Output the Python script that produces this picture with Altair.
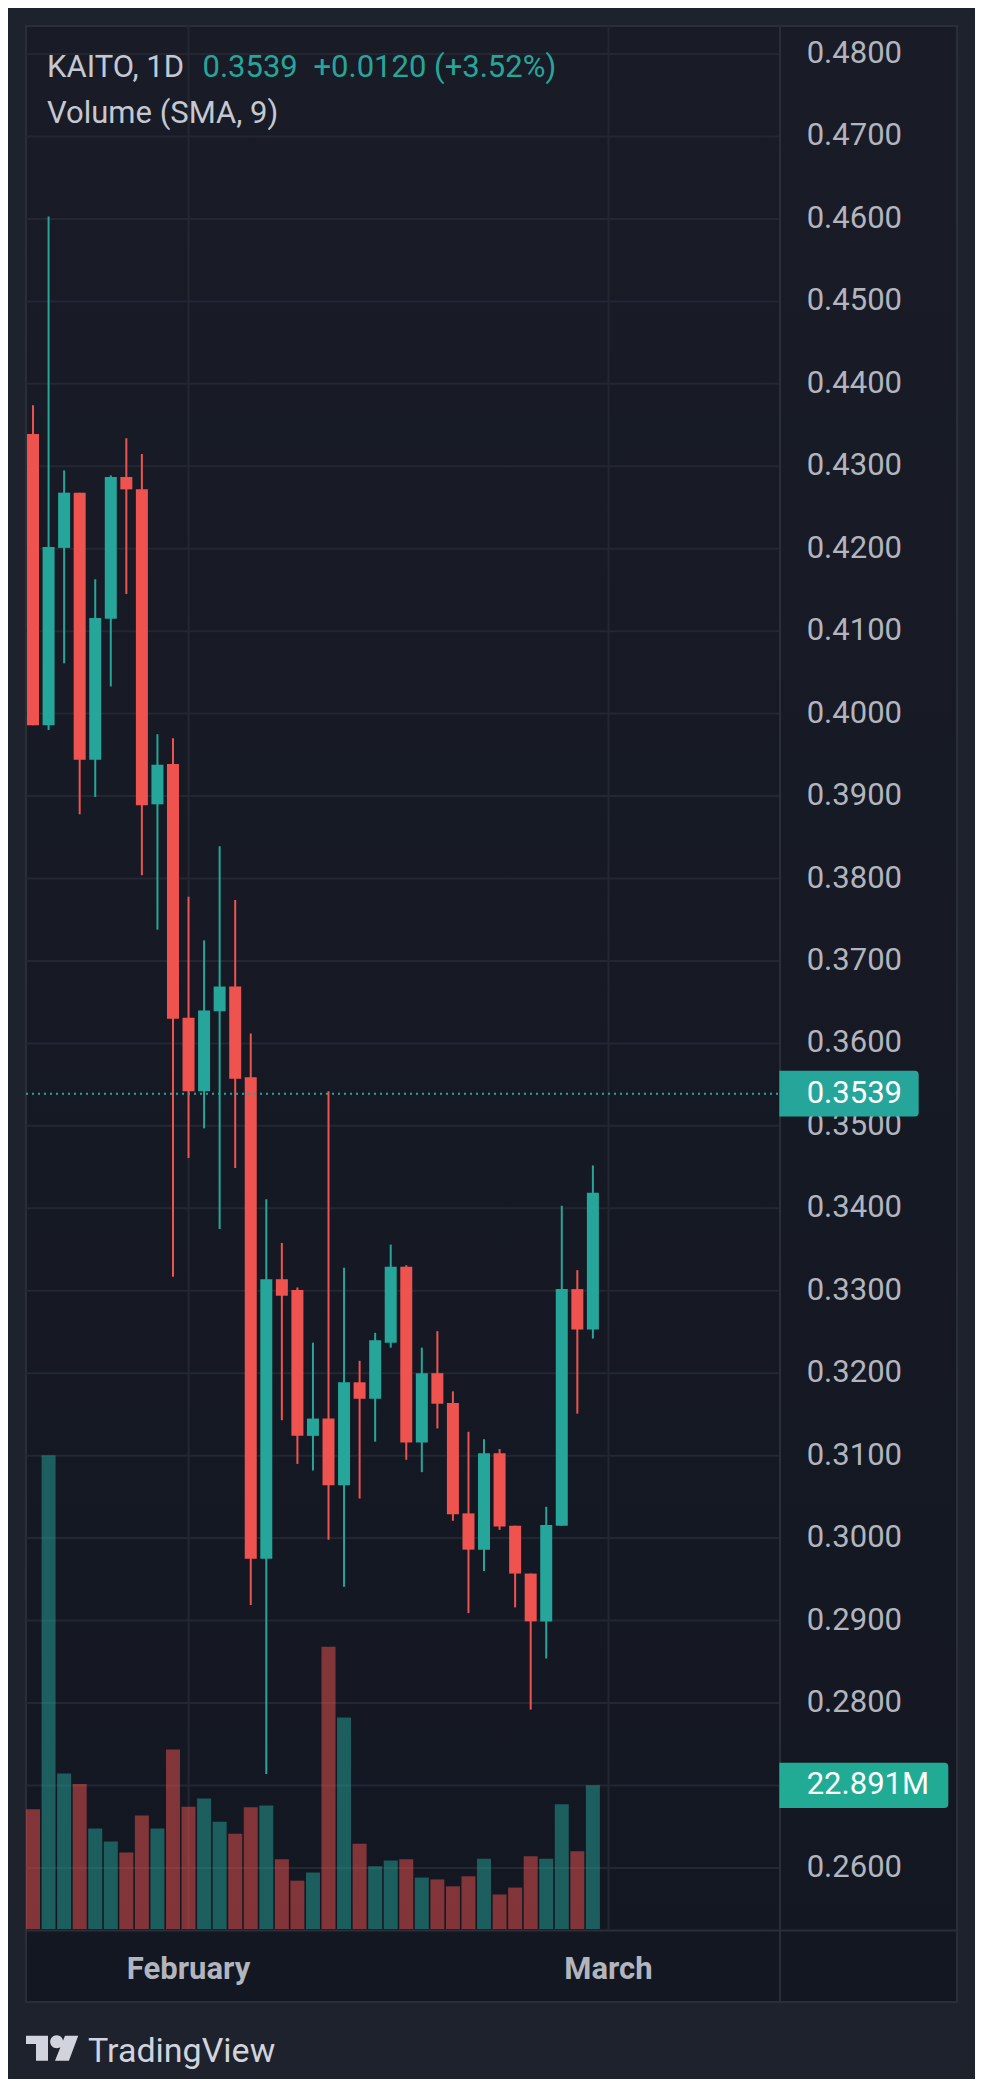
import altair as alt
import pandas as pd

# ---------------- data ----------------
day_index = list(range(37))
opens = [0.4339, 0.3986, 0.4201, 0.4268, 0.3944, 0.4115, 0.4287, 0.4272, 0.3890, 0.3939,
         0.3631, 0.3542, 0.3639, 0.3669, 0.3559, 0.2975, 0.3314, 0.3301, 0.3124, 0.3145,
         0.3064, 0.3189, 0.3169, 0.3237, 0.3329, 0.3116, 0.3200, 0.3164, 0.3030, 0.2986,
         0.3103, 0.3015, 0.2957, 0.2899, 0.3015, 0.3302, 0.3253]
highs = [0.4374, 0.4603, 0.4295, 0.4268, 0.4163, 0.4289, 0.4334, 0.4315, 0.3975, 0.3970,
         0.3778, 0.3725, 0.3839, 0.3774, 0.3612, 0.3411, 0.3358, 0.3304, 0.3237, 0.3542,
         0.3328, 0.3215, 0.3249, 0.3356, 0.3331, 0.3231, 0.3251, 0.3178, 0.3129, 0.3120,
         0.3108, 0.3015, 0.2957, 0.3038, 0.3403, 0.3325, 0.3452]
lows = [0.3986, 0.3980, 0.4061, 0.3878, 0.3899, 0.4033, 0.4145, 0.3804, 0.3738, 0.3317,
        0.3461, 0.3497, 0.3375, 0.3449, 0.2919, 0.2714, 0.3143, 0.3090, 0.3082, 0.2998,
        0.2941, 0.3048, 0.3117, 0.3231, 0.3095, 0.3080, 0.3133, 0.3021, 0.2909, 0.2960,
        0.3010, 0.2916, 0.2792, 0.2854, 0.3015, 0.3151, 0.3242]
closes = [0.3986, 0.4202, 0.4268, 0.3944, 0.4116, 0.4287, 0.4272, 0.3889, 0.3938, 0.3630,
          0.3542, 0.3640, 0.3669, 0.3557, 0.2975, 0.3314, 0.3294, 0.3124, 0.3145, 0.3064,
          0.3189, 0.3169, 0.3240, 0.3329, 0.3116, 0.3200, 0.3163, 0.3029, 0.2986, 0.3103,
          0.3014, 0.2957, 0.2899, 0.3016, 0.3302, 0.3253, 0.3419]
volumes_m = [19.1, 75.5, 24.8, 23.1, 16.0, 13.95, 12.2, 18.1, 16.0, 28.6,
             19.5, 20.8, 17.1, 15.2, 19.4, 19.7, 11.1, 7.7, 9.0, 45.0,
             33.7, 13.6, 10.0, 10.9, 11.1, 8.2, 7.9, 6.8, 8.4, 11.2,
             5.5, 6.6, 11.6, 11.2, 19.9, 12.4, 22.891]
grid_prices = [0.48, 0.47, 0.46, 0.45, 0.44, 0.43, 0.42, 0.41, 0.40, 0.39, 0.38, 0.37,
               0.36, 0.35, 0.34, 0.33, 0.32, 0.31, 0.30, 0.29, 0.28, 0.27, 0.26]
# 0.2700 sits under the volume label in the reference, so it is not shown
label_prices = [0.48, 0.47, 0.46, 0.45, 0.44, 0.43, 0.42, 0.41, 0.40, 0.39, 0.38, 0.37,
                0.36, 0.35, 0.34, 0.33, 0.32, 0.31, 0.30, 0.29, 0.28, 0.26]
month_index = [10, 37]
month_names = ["February", "March"]
last_price = [0.3539]
last_volume = [22.891]

# ---------------- geometry / style ----------------
W, H = 754, 1903
XD = [-0.13, 47.71]
PD = [0.25259, 0.48340]
VD = [0, 303.3]
UP, DOWN = "#26a69a", "#ef5350"
GRID = "#232732"
FRAME = "#2a2e39"
LABEL = "#b2b5be"
FONT = "Roboto"

df = pd.DataFrame({"i": day_index, "o": opens, "h": highs, "l": lows,
                   "c": closes, "v": volumes_m})
df["dir"] = ["up" if c >= o else "down" for o, c in zip(opens, closes)]

one = pd.DataFrame({"a": [0]})
grid_df = pd.DataFrame({"p": grid_prices})
ticks_df = pd.DataFrame({"p": label_prices})
months_df = pd.DataFrame({"i": month_index, "name": month_names})
lp_df = pd.DataFrame({"p": last_price})
lv_df = pd.DataFrame({"v": last_volume, "t": [f"{v:.3f}M" for v in last_volume]})


def xq(field="i:Q"):
    return alt.X(field, scale=alt.Scale(domain=XD, nice=False, zero=False), axis=None)


def py(field):
    return alt.Y(field, scale=alt.Scale(domain=PD, nice=False, zero=False), axis=None)


def vy(field):
    return alt.Y(field, scale=alt.Scale(domain=VD, nice=False, zero=True), axis=None)


col = alt.Color("dir:N", scale=alt.Scale(domain=["up", "down"], range=[UP, DOWN]), legend=None)

# background panel with frame
bg = alt.Chart(one).mark_rect(
    fill=alt.Gradient(gradient="linear",
                      stops=[alt.GradientStop(color="#191c27", offset=0),
                             alt.GradientStop(color="#131722", offset=1)],
                      x1=0, x2=0, y1=0, y2=1),
    stroke=FRAME, strokeWidth=2,
).encode(x=alt.value(0), x2=alt.value(931), y=alt.value(0), y2=alt.value(1976))

hgrid = alt.Chart(grid_df).mark_rule(color=GRID, strokeWidth=2).encode(
    y=py("p:Q"), x=alt.value(0), x2=alt.value(W))
vgrid = alt.Chart(months_df).mark_rule(color=GRID, strokeWidth=2).encode(
    x=xq(), y=alt.value(0), y2=alt.value(H))

vol = alt.Chart(df).mark_bar(size=14, opacity=0.5, clip=True, orient="vertical").encode(
    x=xq(), y=vy("v:Q"), color=col)
wick = alt.Chart(df).mark_rule(strokeWidth=2, clip=True).encode(
    x=xq(), y=py("l:Q"), y2="h:Q", color=col)
body = alt.Chart(df).mark_bar(size=12, clip=True, orient="vertical").encode(
    x=xq(), y=py("o:Q"), y2="c:Q", color=col)

pline = alt.Chart(lp_df).mark_rule(color=UP, strokeWidth=2, strokeDash=[2, 4]).encode(
    y=py("p:Q"), x=alt.value(0), x2=alt.value(W))

plabels = alt.Chart(ticks_df).mark_text(
    align="left", baseline="middle", font=FONT, fontSize=31, color=LABEL).encode(
    y=py("p:Q"), x=alt.value(780.7), text=alt.Text("p:Q", format=".4f"))

sep_v = alt.Chart(one).mark_rule(color=FRAME, strokeWidth=2).encode(
    x=alt.value(W), y=alt.value(0), y2=alt.value(1976))
sep_h = alt.Chart(one).mark_rule(color=FRAME, strokeWidth=2).encode(
    y=alt.value(H + 1.5), x=alt.value(0), x2=alt.value(931))

box_p_path = "M -1 -0.328 L 0.943 -0.328 Q 1 -0.328 1 -0.271 L 1 0.271 Q 1 0.328 0.943 0.328 L -1 0.328 Z"
box_p = alt.Chart(lp_df).mark_point(shape=box_p_path, filled=True, size=19432,
                                    color=UP, opacity=1, strokeWidth=0).encode(
    y=py("p:Q"), x=alt.value(823))
box_p_txt = alt.Chart(lp_df).mark_text(
    align="left", baseline="middle", font=FONT, fontSize=31, color="#ffffff").encode(
    y=py("p:Q"), x=alt.value(780.7), text=alt.Text("p:Q", format=".4f"))

box_v_path = "M -1 -0.2686 L 0.953 -0.2686 Q 1 -0.2686 1 -0.221 L 1 0.221 Q 1 0.2686 0.953 0.2686 L -1 0.2686 Z"
box_v = alt.Chart(lv_df).mark_point(shape=box_v_path, filled=True, size=28561,
                                    color="#22ab94", opacity=1, strokeWidth=0).encode(
    y=vy("v:Q"), x=alt.value(837.8))
box_v_txt = alt.Chart(lv_df).mark_text(
    align="left", baseline="middle", font=FONT, fontSize=31, color="#ffffff").encode(
    y=vy("v:Q"), x=alt.value(780.7), text="t:N")

months = alt.Chart(months_df).mark_text(
    align="center", baseline="alphabetic", font=FONT, fontSize=31, fontWeight="bold",
    color=LABEL).encode(x=xq(), y=alt.value(1953), text="name:N")

hdr1 = alt.Chart(one).mark_text(align="left", baseline="alphabetic", font=FONT, fontSize=31,
                                color="#c5c8d1", text="KAITO, 1D").encode(
    x=alt.value(21), y=alt.value(51))
hdr2 = alt.Chart(one).mark_text(align="left", baseline="alphabetic", font=FONT, fontSize=31,
                                color=UP, text="0.3539").encode(
    x=alt.value(176.5), y=alt.value(51))
hdr3 = alt.Chart(one).mark_text(align="left", baseline="alphabetic", font=FONT, fontSize=31,
                                color=UP, text="+0.0120 (+3.52%)").encode(
    x=alt.value(287.5), y=alt.value(51))
hdr4 = alt.Chart(one).mark_text(align="left", baseline="alphabetic", font=FONT, fontSize=31,
                                color="#c5c8d1", text="Volume (SMA, 9)").encode(
    x=alt.value(21), y=alt.value(96.5))

logo_path = ("M -1 -0.48 L -0.154 -0.48 L -0.154 0.48 L -0.615 0.48 L -0.615 -0.16 L -1 -0.16 Z "
             "M 0.43 -0.25 A 0.25 0.25 0 1 1 -0.07 -0.25 A 0.25 0.25 0 1 1 0.43 -0.25 Z "
             "M 0.5 -0.48 L 1.01 -0.48 L 0.65 0.48 L 0.115 0.48 Z")
logo = alt.Chart(one).mark_point(shape=logo_path, filled=True, size=2704,
                                 color="#d1d4dc", opacity=1, strokeWidth=0).encode(
    x=alt.value(26), y=alt.value(2022.2))
logo_txt = alt.Chart(one).mark_text(align="left", baseline="alphabetic", font=FONT,
                                    fontSize=34, color="#d1d4dc", text="TradingView").encode(
    x=alt.value(62), y=alt.value(2035.7))

chart = alt.layer(
    bg, hgrid, vgrid, vol, wick, body, pline, plabels, sep_v, sep_h,
    box_p, box_p_txt, box_v, box_v_txt, months, hdr1, hdr2, hdr3, hdr4, logo, logo_txt
).resolve_scale(y="independent").properties(
    width=W, height=H,
    autosize=alt.AutoSizeParams(type="none"),
    padding={"left": 18, "top": 18, "right": 195, "bottom": 150},
    background="#1e222d",
).configure_view(stroke="transparent")

chart.save("out.html", embed_options={"renderer": "svg", "actions": False})
